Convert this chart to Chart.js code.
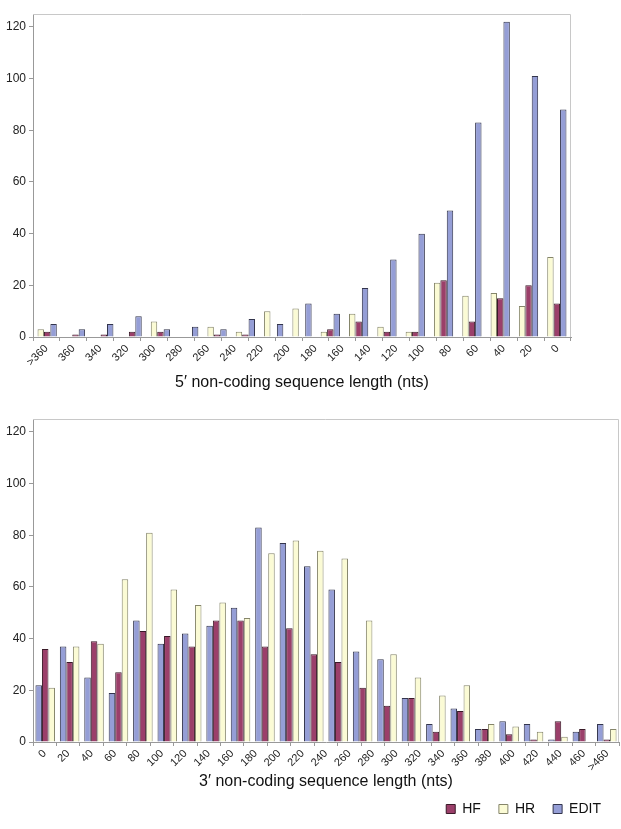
<html>
<head>
  <title>non-coding sequence length</title>
  <script src="https://cdn.jsdelivr.net/npm/chart.js"></script>
  <style>
    body { margin: 0; background: #fff; }
    canvas { position: absolute; left: 0; }
  </style>
</head>
<body>
  <canvas id="chart5" width="621" height="395" style="top:0px"></canvas>
  <canvas id="chart3" width="621" height="426" style="top:400px"></canvas>
  <script>
    // 5' chart: bin boundaries (tick labels) and counts per bin, left to right
    const ticks5 = ['>360', '360', '340', '320', '300', '280', '260', '240', '220', '200',
                    '180', '160', '140', '120', '100', '80', '60', '40', '20', '0'];
    const bins5 = ticks5.slice(1).map((t, i) => ticks5[i] + '-' + t);
    const hr5   = [3, 0, 0, 0, 6, 0, 4, 2, 10, 11, 2, 9, 4, 2, 21, 16, 17, 12, 31];
    const hf5   = [2, 1, 1, 2, 2, 0, 1, 1, 0, 0, 3, 6, 2, 2, 22, 6, 15, 20, 13];
    const edit5 = [5, 3, 5, 8, 3, 4, 3, 7, 5, 13, 9, 19, 30, 40, 49, 83, 122, 101, 88];

    // 3' chart
    const ticks3 = ['0', '20', '40', '60', '80', '100', '120', '140', '160', '180', '200', '220',
                    '240', '260', '280', '300', '320', '340', '360', '380', '400', '420', '440', '460', '>460'];
    const bins3 = ticks3.slice(1).map((t, i) => ticks3[i] + '-' + t);
    const edit3 = [22, 37, 25, 19, 47, 38, 42, 45, 52, 83, 77, 68, 59, 35, 32, 17, 7, 13, 5, 8, 7, 1, 4, 7];
    const hf3   = [36, 31, 39, 27, 43, 41, 37, 47, 47, 37, 44, 34, 31, 21, 14, 17, 4, 12, 5, 3, 1, 8, 5, 1];
    const hr3   = [21, 37, 38, 63, 81, 59, 53, 54, 48, 73, 78, 74, 71, 47, 34, 25, 18, 22, 7, 6, 4, 2, 0, 5];

    const legendOrder = ['HF', 'HR', 'EDIT'];

    const FONT = "Arial, 'Liberation Sans', sans-serif";
    const style = {
      HF:   { backgroundColor: '#9b3f6a', borderColor: '#3a1a28' },
      HR:   { backgroundColor: '#fbfbd5', borderColor: '#85856a' },
      EDIT: { backgroundColor: '#959ed6', borderColor: '#33354d' }
    };

    function ds(label, data) {
      return Object.assign({ label: label, data: data, borderWidth: 1 }, style[label]);
    }

    // light frame on top and right of the plot area
    const plotFrame = {
      id: 'plotFrame',
      beforeDatasetsDraw(chart) {
        const a = chart.chartArea, ctx = chart.ctx;
        ctx.save();
        ctx.strokeStyle = '#c8c8c8';
        ctx.lineWidth = 1;
        ctx.beginPath();
        ctx.moveTo(a.left, Math.round(a.top) + 0.5);
        ctx.lineTo(Math.round(a.right) - 0.5, Math.round(a.top) + 0.5);
        ctx.lineTo(Math.round(a.right) - 0.5, a.bottom);
        ctx.stroke();
        ctx.restore();
      }
    };

    function makeOptions(ticks, title, opt) {
      return {
        responsive: false,
        animation: false,
        layout: { padding: opt.padding },
        plugins: {
          tooltip: { enabled: false },
          legend: opt.legend
        },
        datasets: { bar: { categoryPercentage: opt.catPct, barPercentage: 1 } },
        scales: {
          x: { display: false, offset: true },
          x2: {
            type: 'linear', position: 'bottom', min: 0, max: ticks.length - 1,
            ticks: {
              stepSize: 1, autoSkip: false, maxRotation: 45, minRotation: 45, padding: 1,
              color: '#222', font: { family: FONT, size: 11 },
              callback: v => ticks[v]
            },
            grid: { drawOnChartArea: false, tickLength: 4, color: '#999' },
            border: { color: '#999' },
            title: {
              display: true, text: title, color: '#111',
              font: { family: FONT, size: 16 }, padding: opt.titlePad
            },
            afterFit: s => { s.height = opt.axisH(s); }
          },
          y: {
            min: 0, max: 125,
            ticks: { stepSize: 20, includeBounds: false, padding: 3, color: '#222', font: { family: FONT, size: 12 } },
            grid: { drawOnChartArea: false, tickLength: 4, color: '#999' },
            border: { color: '#999' },
            afterFit: s => { s.width = 33; }
          }
        }
      };
    }

    new Chart(document.getElementById('chart5'), {
      type: 'bar',
      data: { labels: bins5, datasets: [ds('HR', hr5), ds('HF', hf5), ds('EDIT', edit5)] },
      options: makeOptions(ticks5, '5\u2032 non-coding sequence length (nts)', {
        padding: { top: 14, right: 50, left: 0, bottom: 0 },
        catPct: 0.68,
        titlePad: { top: 0, bottom: 3 },
        axisH: s => 58,
        legend: { display: false }
      }),
      plugins: [plotFrame]
    });

    new Chart(document.getElementById('chart3'), {
      type: 'bar',
      data: { labels: bins3, datasets: [ds('EDIT', edit3), ds('HF', hf3), ds('HR', hr3)] },
      options: makeOptions(ticks3, '3\u2032 non-coding sequence length (nts)', {
        padding: { top: 19, right: 2, left: 0, bottom: 0 },
        catPct: 0.8,
        titlePad: { top: 0, bottom: -7 },
        axisH: s => s.chart.height - (s.chart.legend ? s.chart.legend.height : 0) - 342,
        legend: {
          display: true, position: 'bottom', align: 'end',
          labels: {
            boxWidth: 9, boxHeight: 9, padding: 18, color: '#111',
            font: { family: FONT, size: 14 },
            sort: (a, b) => legendOrder.indexOf(a.text) - legendOrder.indexOf(b.text)
          }
        }
      }),
      plugins: [plotFrame]
    });
  </script>
</body>
</html>
